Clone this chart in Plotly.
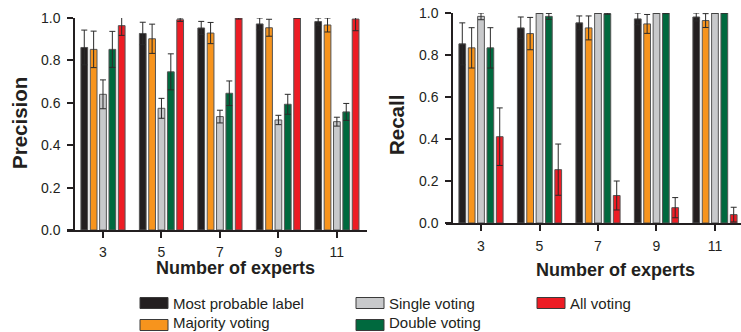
import plotly.graph_objects as go

experts = [3, 5, 7, 9, 11]
series_names = ["Most probable label", "Majority voting", "Single voting", "Double voting", "All voting"]
series_colors = ["#231f20", "#f7941d", "#c8c9cb", "#00693e", "#ed1c24"]

precision_most_probable = [0.861, 0.927, 0.953, 0.972, 0.983]
precision_majority = [0.852, 0.902, 0.929, 0.954, 0.967]
precision_single = [0.640, 0.574, 0.535, 0.519, 0.511]
precision_double = [0.852, 0.746, 0.645, 0.593, 0.557]
precision_all = [0.964, 0.992, 1.000, 1.000, 0.995]

precision_err_most_probable = [0.082, 0.053, 0.031, 0.028, 0.017]
precision_err_majority = [0.086, 0.069, 0.050, 0.040, 0.033]
precision_err_single = [0.068, 0.047, 0.030, 0.022, 0.021]
precision_err_double = [0.085, 0.085, 0.058, 0.047, 0.040]
precision_err_all = [0.046, 0.008, 0.005, 0.000, 0.055]

recall_most_probable = [0.853, 0.929, 0.953, 0.972, 0.981]
recall_majority = [0.834, 0.902, 0.929, 0.948, 0.964]
recall_single = [0.984, 1.000, 1.000, 1.000, 1.000]
recall_double = [0.834, 0.984, 0.997, 1.000, 1.000]
recall_all = [0.411, 0.254, 0.131, 0.073, 0.040]

recall_err_most_probable = [0.100, 0.052, 0.033, 0.028, 0.019]
recall_err_majority = [0.096, 0.077, 0.057, 0.045, 0.033]
recall_err_single = [0.016, 0.000, 0.000, 0.000, 0.000]
recall_err_double = [0.096, 0.014, 0.003, 0.003, 0.000]
recall_err_all = [0.137, 0.122, 0.069, 0.048, 0.035]

y_ticks = [0.0, 0.2, 0.4, 0.6, 0.8, 1.0]

precision_series = [precision_most_probable, precision_majority, precision_single, precision_double, precision_all]
precision_errors = [precision_err_most_probable, precision_err_majority, precision_err_single, precision_err_double, precision_err_all]
recall_series = [recall_most_probable, recall_majority, recall_single, recall_double, recall_all]
recall_errors = [recall_err_most_probable, recall_err_majority, recall_err_single, recall_err_double, recall_err_all]

W, H = 741, 332
FONT = "Liberation Sans, Arial, sans-serif"
INK = "#231f20"

fig = go.Figure()

def add_bars(values_list, errors_list, xa, ya):
    for name, color, vals, errs in zip(series_names, series_colors, values_list, errors_list):
        fig.add_trace(go.Bar(
            x=experts, y=vals, name=name, xaxis=xa, yaxis=ya,
            marker=dict(color=color, line=dict(color="#555555", width=1)),
            error_y=dict(type="data", array=errs, visible=True, color="#2a2a2a",
                         thickness=1, width=3),
            showlegend=False,
        ))

add_bars(precision_series, precision_errors, "x", "y")
add_bars(recall_series, recall_errors, "x2", "y2")

def px_x(p):
    return p / W

def px_y(p):
    return 1 - p / H

xcommon = dict(tickvals=experts, ticktext=[str(e) for e in experts], ticks="outside", ticklen=6,
               tickwidth=1.5, tickcolor=INK, showline=True, linecolor=INK, linewidth=1.5,
               showgrid=False, zeroline=False, automargin=False,
               tickfont=dict(family=FONT, size=14, color=INK))
ycommon = dict(range=[0, 1], tickvals=y_ticks, tickformat=".1f", ticks="outside", ticklen=6,
               tickwidth=1.5, tickcolor=INK, showline=True, linecolor=INK, linewidth=1.5,
               showgrid=False, zeroline=False, automargin=False,
               tickfont=dict(family=FONT, size=14, color=INK), anchor="free")

fig.update_layout(
    template="none",
    width=W, height=H,
    margin=dict(l=0, r=0, t=0, b=0, pad=0),
    paper_bgcolor="white", plot_bgcolor="white",
    barmode="group", bargap=0.2, bargroupgap=0.28,
    showlegend=False,
    xaxis=dict(domain=[px_x(67), px_x(367)], range=[1.769, 12.03], anchor="y",
               ticklabelstandoff=2, **xcommon),
    yaxis=dict(domain=[px_y(230), px_y(18)], position=px_x(74), ticklabelstandoff=4, **ycommon),
    xaxis2=dict(domain=[px_x(446), 1.0], range=[1.803, 11.89], anchor="y2",
                ticklabelstandoff=3, **xcommon),
    yaxis2=dict(domain=[px_y(223), px_y(13)], position=px_x(452), ticklabelstandoff=4, **ycommon),
)

annotations = [
    dict(text="<b>Precision</b>", x=px_x(20), y=px_y(123), textangle=-90),
    dict(text="<b>Recall</b>", x=px_x(396), y=px_y(125), textangle=-90),
    dict(text="<b>Number of experts</b>", x=px_x(235), y=px_y(268), textangle=0),
    dict(text="<b>Number of experts</b>", x=px_x(615), y=px_y(270), textangle=0),
]
for a in annotations:
    size = 20.5 if a["textangle"] == -90 else 18
    fig.add_annotation(xref="paper", yref="paper", showarrow=False, xanchor="center", yanchor="middle",
                       font=dict(family=FONT, size=size, color=INK), **a)

# Legend drawn as swatches + labels (3 columns, 2 rows)
legend_slots = [(140, 303, 303), (140, 325, 322), (356, 303, 303), (356, 325, 322), (537, 303, 303)]
for idx, (lx, sy, ty) in enumerate(legend_slots):
    fig.add_shape(type="rect", xref="paper", yref="paper",
                  x0=px_x(lx), x1=px_x(lx + 28), y0=px_y(sy - 5.5), y1=px_y(sy + 5.5),
                  fillcolor=series_colors[idx], line=dict(color="#3a3a3a", width=1))
    fig.add_annotation(xref="paper", yref="paper", x=px_x(lx + 31), y=px_y(ty), text=series_names[idx],
                       showarrow=False, xanchor="left", yanchor="middle",
                       font=dict(family=FONT, size=15, color=INK))

fig.write_html("out.html", config={"displayModeBar": False},
               post_script="document.body.style.margin='0';document.body.style.overflow='hidden';")
